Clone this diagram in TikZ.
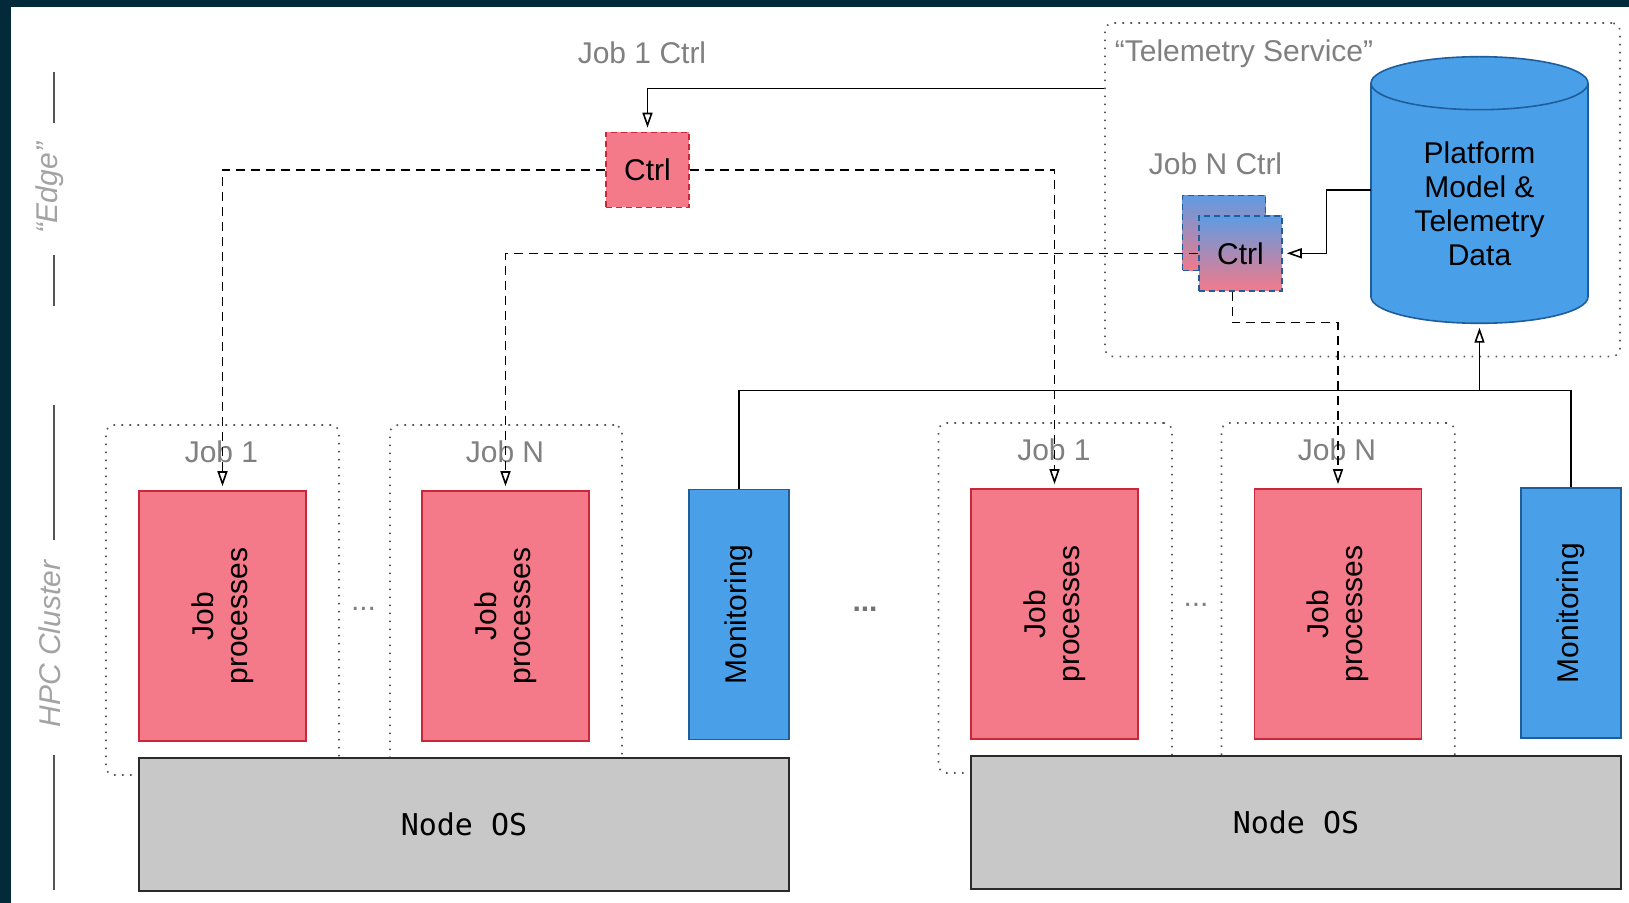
\documentclass[tikz,border=0pt]{standalone}
\usepackage{fontspec}
\setmainfont{Liberation Sans}
\setmonofont{DejaVu Sans Mono}
\usetikzlibrary{arrows.meta,fit,calc}

\definecolor{framebg}{HTML}{032A38}
\definecolor{jobfill}{HTML}{F47A8A}
\definecolor{jobline}{HTML}{C9283A}
\definecolor{monfill}{HTML}{4AA0E8}
\definecolor{monline}{HTML}{1E5E9C}
\definecolor{osfill}{HTML}{C8C8C8}
\definecolor{osline}{HTML}{2A2A2A}
\definecolor{lblgrey}{HTML}{808080}
\definecolor{sidegrey}{HTML}{A3A3A3}
\definecolor{dotgrey}{HTML}{555555}
\definecolor{ctrltop}{HTML}{5F9BE2}
\definecolor{ctrlbot}{HTML}{F27A8A}

\begin{document}
\begin{tikzpicture}[x=0.5pt, y=-0.5pt,
  font=\fontsize{15}{17}\selectfont,
  container/.style={draw=dotgrey, line width=0.8pt, dash pattern=on 0.8pt off 3.2pt, rounded corners=4pt, inner sep=0pt},
  procbox/.style={draw=jobline, fill=jobfill, line width=0.8pt, minimum width=83.5pt, minimum height=125pt, inner sep=0pt},
  monbox/.style={draw=monline, fill=monfill, line width=0.8pt, minimum width=50pt, minimum height=125pt, inner sep=0pt},
  osbox/.style={draw=osline, fill=osfill, line width=1pt, minimum width=325pt, minimum height=66.5pt, inner sep=0pt, font=\ttfamily\fontsize{15}{17}\selectfont},
  ctrlred/.style={draw=jobline, fill=jobfill, dash pattern=on 3pt off 2pt, line width=0.8pt, minimum width=41.5pt, minimum height=37.5pt, inner sep=0pt},
  ctrlgrad/.style={draw=monline, top color=ctrltop, bottom color=ctrlbot, dash pattern=on 3pt off 2pt, line width=0.8pt, minimum width=41.5pt, minimum height=37.5pt, inner sep=0pt},
  lbl/.style={text=lblgrey, inner sep=0pt},
  sidelbl/.style={text=sidegrey, font=\itshape\fontsize{15}{17}\selectfont, rotate=90, inner sep=0pt},
  vtext/.style={rotate=90, align=center, inner sep=0pt},
  conn/.style={draw=black, line width=0.7pt},
  dconn/.style={conn, dash pattern=on 4.5pt off 3pt},
  openarrow/.style={-{Triangle[open, length=7.5pt, width=5pt, line width=0.8pt]}, shorten >=2pt},
  sideline/.style={draw=dotgrey, line width=0.6pt},
]
\useasboundingbox (0,0) rectangle (1629,903);
\fill[white] (0,0) rectangle (1629,903);
\fill[framebg] (0,0) rectangle (1629,7.5);
\fill[framebg] (0,0) rectangle (10.5,903);

% side captions
\draw[sideline] (54,72) -- (54,123);
\draw[sideline] (54,255) -- (54,306.5);
\draw[sideline] (54,405) -- (54,540);
\draw[sideline] (54,755) -- (54,890);
\node[sidelbl] (edge) at (50,188) {“Edge”};
\node[sidelbl] (hpc) at (50,644) {HPC Cluster};

% job containers
\node[container, fit={(106,425) (339,775)}] (c1a) {};
\node[container, fit={(390,425) (622,775)}] (cNa) {};
\node[container, fit={(938.5,423) (1172,773)}] (c1b) {};
\node[container, fit={(1221.5,423) (1454.7,773)}] (cNb) {};
\node[lbl] (l1a) at (221.5,452) {Job 1};
\node[lbl] (lNa) at (505,452) {Job N};
\node[lbl] (l1b) at (1054,450) {Job 1};
\node[lbl] (lNb) at (1337,450) {Job N};

% compute nodes
\node[procbox] (p1a) at (222.5,616) {};
\node[procbox] (pNa) at (505.5,616) {};
\node[procbox] (p1b) at (1054.5,614) {};
\node[procbox] (pNb) at (1338,614) {};
\node[vtext] (t1a) at (p1a) {Job\\processes};
\node[vtext] (tNa) at (pNa) {Job\\processes};
\node[vtext] (t1b) at (p1b) {Job\\processes};
\node[vtext] (tNb) at (pNb) {Job\\processes};
\node[monbox] (m1) at (739,614.5) {};
\node[monbox] (m2) at (1571,613) {};
\node[vtext] (tm1) at (m1) {Monitoring};
\node[vtext] (tm2) at (m2) {Monitoring};
\node[osbox] (os1) at (464,824) {Node OS};
\node[osbox] (os2) at (1296,822.7) {Node OS};
\node[text=lblgrey, inner sep=0pt] (dots1) at (363.5,609) {...};
\node[text=lblgrey, inner sep=0pt] (dots3) at (1196,605) {...};
\node[text=black!55, font=\bfseries\fontsize{15}{17}\selectfont, inner sep=0pt] (dots2) at (865,609) {...};

% edge: telemetry service
\node[container, fit={(1105,23) (1620,356.5)}] (tele) {};
\node[lbl] (telelbl) at (1244,54) {“Telemetry Service”};
\node[lbl] (ctrl1lbl) at (642,53) {Job 1 Ctrl};
\node[lbl] (ctrlNlbl) at (1215.5,164) {Job N Ctrl};
\node[ctrlred] (ctrl1) at (647.5,170) {Ctrl};
\node[ctrlgrad] (ctrlNb) at (1224,233) {};
\node[ctrlgrad] (ctrlN) at (1240.5,253.3) {Ctrl};

% platform model database
\path[fill=monfill, draw=monline, line width=0.8pt]
  (1371,83.2) -- (1371,296.8)
  arc[start angle=180, end angle=360, x radius=54.25pt, y radius=13.25pt]
  -- (1588,83.2)
  arc[start angle=0, end angle=180, x radius=54.25pt, y radius=13.25pt] -- cycle;
\draw[monline, line width=0.8pt] (1371,83.2)
  arc[start angle=180, end angle=360, x radius=54.25pt, y radius=13.25pt];
\node[fit={(1371,56.7) (1588,323.3)}, inner sep=0pt] (db) {};
\node[align=center, inner sep=0pt] (dbtext) at (1479.5,203.6) {Platform\\Model \&\\Telemetry\\Data};

% connectors
\coordinate (telein) at (tele.west |- 0,88.3);
\draw[conn, openarrow] (telein) -| (ctrl1.north);
\draw[dconn, openarrow] (ctrl1.west) -| (p1a.north);
\draw[dconn, openarrow] (ctrl1.east) -| (p1b.north);
\draw[dconn, openarrow] (ctrlN.west) -| (pNa.north);
\draw[dconn, openarrow] ([xshift=-4pt]ctrlN.south) -- ++(0,31.2) -| (pNb.north);
\draw[conn, openarrow] (db.west) -- ++(-44,0) |- (ctrlN.east);
\coordinate (bus) at (db.south |- 0,390.3);
\draw[conn] (m1.north) |- (bus) -| (m2.north);
\draw[conn, openarrow] (bus) -- (db.south);
\end{tikzpicture}
\end{document}
